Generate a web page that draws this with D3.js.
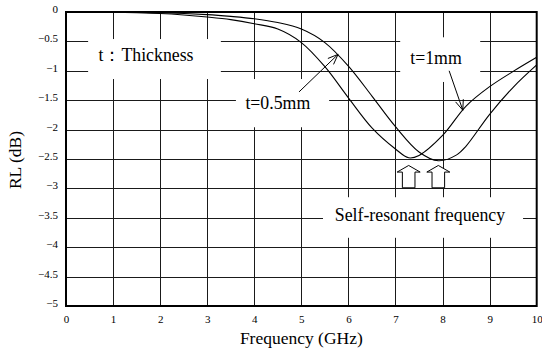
<!DOCTYPE html>
<html>
<head>
<meta charset="utf-8">
<script src="https://cdn.jsdelivr.net/npm/d3@7"></script>
<style>
  html, body { margin: 0; padding: 0; background: #fff; }
  svg { display: block; }
  svg text { font-family: "Liberation Serif", "DejaVu Serif", "Noto Serif", "Times New Roman", serif; fill: #000; }
</style>
</head>
<body>
<svg id="chart" width="542" height="351"></svg>
<script>
// ---------------- data ----------------
const xTicks = [0, 1, 2, 3, 4, 5, 6, 7, 8, 9, 10];
const yTicks = [0, -0.5, -1, -1.5, -2, -2.5, -3, -3.5, -4, -4.5, -5];

// t = 1mm (resonance at lower frequency)
const freq1mm = [0, 0.5, 1, 1.5, 2, 2.5, 3, 3.5, 4, 4.5, 5, 5.5, 6, 6.5, 7, 7.28, 7.5, 8, 8.5, 9, 9.5, 10];
const rl1mm   = [0, 0, -0.005, -0.012, -0.025, -0.05, -0.085, -0.13, -0.2, -0.29, -0.52, -0.93, -1.46, -1.97, -2.33, -2.48, -2.44, -2.1, -1.6, -1.27, -1.01, -0.77];

// t = 0.5mm
const freq05mm = [0, 1, 2, 3, 3.5, 4, 4.5, 5, 5.5, 6, 6.5, 7, 7.5, 7.91, 8.3, 8.5, 9, 9.5, 10];
const rl05mm   = [0, -0.003, -0.012, -0.045, -0.075, -0.115, -0.18, -0.29, -0.52, -0.92, -1.43, -1.95, -2.38, -2.53, -2.43, -2.28, -1.74, -1.28, -0.9];

// self-resonant frequencies (hollow arrows)
const resonantFreqs = [7.28, 7.91];
const resonantArrowTop = -2.61;
const resonantArrowBottom = -2.99;

// annotation boxes (data units)
const boxTexts = ["t\uFF1AThickness", "t=0.5mm", "t=1mm", "Self-resonant frequency"];
const boxF0 = [0.47, 3.61, 7.10, 5.46];
const boxF1 = [3.29, 5.59, 8.80, 9.71];
const boxV0 = [-0.46, -1.14, -0.43, -3.15];
const boxV1 = [-1.14, -1.96, -1.19, -3.84];
const textF = [1.70, 4.50, 7.86, 7.52];
const textV = [-0.73, -1.55, -0.78, -3.45];

// pointer arrows from labels to curves
const pointerFromF = [4.95, 8.14];
const pointerFromV = [-1.36, -1.00];
const pointerToF   = [5.78, 8.43];
const pointerToV   = [-0.72, -1.67];

// ---------------- layout ----------------
(function () {
const svg = d3.select("#chart");
const pLeft = 66, pRight = 536.7, pTop = 12, pBottom = 306;
const x = d3.scaleLinear().domain([0, 10]).range([pLeft, pRight]);
const y = d3.scaleLinear().domain([0, -5]).range([pTop, pBottom]);
const crisp = v => Math.round(v) + 0.5;

svg.append("rect").attr("width", 542).attr("height", 351).attr("fill", "#fff");

// grid
const grid = svg.append("g").attr("stroke", "#1a1a1a").attr("stroke-width", 1);
grid.selectAll("line.v").data(xTicks.slice(1, -1)).join("line")
  .attr("class", "v")
  .attr("x1", d => crisp(x(d))).attr("x2", d => crisp(x(d)))
  .attr("y1", pTop).attr("y2", pBottom);
grid.selectAll("line.h").data(yTicks.slice(1, -1)).join("line")
  .attr("class", "h")
  .attr("x1", pLeft).attr("x2", pRight)
  .attr("y1", d => crisp(y(d))).attr("y2", d => crisp(y(d)));

// white label boxes hiding gridlines
svg.append("g").selectAll("rect").data(boxTexts).join("rect")
  .attr("x", (d, i) => x(boxF0[i]))
  .attr("y", (d, i) => y(boxV0[i]))
  .attr("width", (d, i) => x(boxF1[i]) - x(boxF0[i]))
  .attr("height", (d, i) => y(boxV1[i]) - y(boxV0[i]))
  .attr("fill", "#fff");

// curves
const line = d3.line().x(d => x(d[0])).y(d => y(d[1])).curve(d3.curveCatmullRom.alpha(0.5));
[[freq1mm, rl1mm], [freq05mm, rl05mm]].forEach(([fs, vs]) => {
  svg.append("path")
    .datum(fs.map((f, i) => [f, vs[i]]))
    .attr("d", line)
    .attr("fill", "none")
    .attr("stroke", "#000")
    .attr("stroke-width", 1.1);
});

// frame
svg.append("rect")
  .attr("x", pLeft).attr("y", pTop)
  .attr("width", pRight - pLeft).attr("height", pBottom - pTop)
  .attr("fill", "none").attr("stroke", "#000").attr("stroke-width", 2);

// axes (labels only)
const fmt = d => d === 0 ? "0" : "\u2212" + String(Math.abs(d));
const yAxis = svg.append("g")
  .attr("transform", `translate(${pLeft - 2},-3)`)
  .call(d3.axisLeft(y).tickValues(yTicks).tickFormat(fmt).tickSize(0).tickPadding(6));
yAxis.attr("font-family", null);
yAxis.select(".domain").remove();
yAxis.selectAll("text").style("font-size", "11px");

const xAxis = svg.append("g")
  .attr("transform", `translate(0,${pBottom})`)
  .call(d3.axisBottom(x).tickValues(xTicks).tickFormat(d3.format("d")).tickSize(0).tickPadding(9));
xAxis.attr("font-family", null);
xAxis.select(".domain").remove();
xAxis.selectAll("text").style("font-size", "11px");

// axis titles
svg.append("text")
  .attr("x", (pLeft + pRight) / 2).attr("y", 338)
  .attr("text-anchor", "middle").attr("dominant-baseline", "central")
  .style("font-size", "17.5px")
  .text("Frequency (GHz)");
svg.append("text")
  .attr("transform", `translate(15,${(pTop + pBottom) / 2 + 1}) rotate(-90)`)
  .attr("text-anchor", "middle").attr("dominant-baseline", "central")
  .style("font-size", "17.5px")
  .text("RL (dB)");

// annotation texts
svg.append("g").selectAll("text").data(boxTexts).join("text")
  .attr("x", (d, i) => x(textF[i]))
  .attr("y", (d, i) => y(textV[i]))
  .attr("text-anchor", "middle").attr("dominant-baseline", "central")
  .style("font-size", "17.8px")
  .text(d => d);

// pointer arrows (open V heads)
const pg = svg.append("g").attr("stroke", "#000").attr("stroke-width", 1).attr("fill", "none");
pointerFromF.forEach((f0, i) => {
  const x0 = x(f0), y0 = y(pointerFromV[i]);
  const x1 = x(pointerToF[i]), y1 = y(pointerToV[i]);
  const ang = Math.atan2(y1 - y0, x1 - x0);
  const L = 11, a = 0.38;
  const hx1 = x1 - L * Math.cos(ang - a), hy1 = y1 - L * Math.sin(ang - a);
  const hx2 = x1 - L * Math.cos(ang + a), hy2 = y1 - L * Math.sin(ang + a);
  pg.append("line").attr("x1", x0).attr("y1", y0).attr("x2", x1).attr("y2", y1);
  pg.append("path").attr("d", `M${hx1},${hy1}L${x1},${y1}L${hx2},${hy2}`);
});

// hollow block arrows at self-resonant frequencies
const headHalf = 11.5, shaftHalf = 6.3, headH = 6.6;
svg.append("g").selectAll("path").data(resonantFreqs).join("path")
  .attr("d", f => {
    const cx = x(f), yt = y(resonantArrowTop), yb = y(resonantArrowBottom), yh = yt + headH;
    return `M${cx},${yt}L${cx + headHalf},${yh}L${cx + shaftHalf},${yh}L${cx + shaftHalf},${yb}` +
           `L${cx - shaftHalf},${yb}L${cx - shaftHalf},${yh}L${cx - headHalf},${yh}Z`;
  })
  .attr("fill", "#fff").attr("stroke", "#000").attr("stroke-width", 1);
})();
</script>
</body>
</html>
